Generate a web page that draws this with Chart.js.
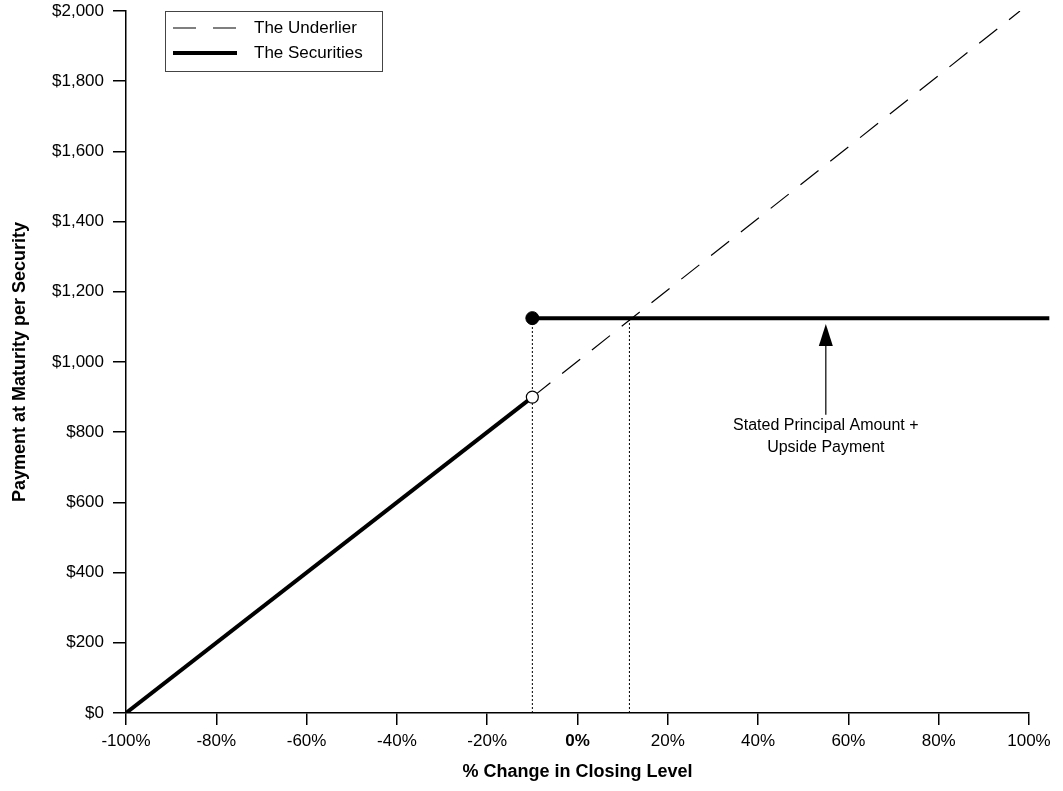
<!DOCTYPE html>
<html>
<head>
<meta charset="utf-8">
<script src="https://cdn.jsdelivr.net/npm/chart.js@4/dist/chart.umd.min.js"></script>
<style>
  html, body { margin: 0; padding: 0; background: #fff; }
</style>
</head>
<body>
<canvas id="payoffChart" width="1063" height="791"></canvas>
<script>
// x = % change in closing level, y = payment at maturity ($)
const xTicks = [-100, -80, -60, -40, -20, 0, 20, 40, 60, 80, 100];
const yTicks = [0, 200, 400, 600, 800, 1000, 1200, 1400, 1600, 1800, 2000];

const underlierX = [-10, 98];
const underlierY = [900, 2000];

const securitiesLowX = [-100, -10];
const securitiesLowY = [0, 900];
const securitiesHighX = [-10, 104.5];
const securitiesHighY = [1125, 1125];

const dropLine1X = [-10, -10];
const dropLine1Y = [0, 1125];
const dropLine2X = [11.5, 11.5];
const dropLine2Y = [0, 1125];

const openPointX = [-10];
const openPointY = [900];
const closedPointX = [-10];
const closedPointY = [1125];

const arrowX = 55;
const arrowFromY = 850;
const arrowToY = 1108;
const arrowLabel = ['Stated Principal Amount +', 'Upside Payment'];

const legendLabels = ['The Underlier', 'The Securities'];

const FONT = '"Liberation Sans", Arial, sans-serif';

function toPoints(xs, ys) {
    return xs.map((x, i) => ({ x: x, y: ys[i] }));
}

// Legend box drawn inside the plot area
const legendBox = {
    id: 'legendBox',
    afterDraw(chart) {
        const c = chart.ctx;
        const a = chart.chartArea;
        const x = a.left + 39, y = a.top, w = 217, h = 60;
        c.save();
        c.fillStyle = '#fff';
        c.fillRect(x, y, w, h);
        c.strokeStyle = '#444';
        c.lineWidth = 1;
        c.strokeRect(x + 0.5, y + 0.5, w, h);

        c.strokeStyle = '#000';
        c.lineWidth = 1.2;
        c.setLineDash([23, 17]);
        c.beginPath();
        c.moveTo(x + 8, y + 17);
        c.lineTo(x + 80, y + 17);
        c.stroke();

        c.setLineDash([]);
        c.lineWidth = 4;
        c.beginPath();
        c.moveTo(x + 8, y + 42);
        c.lineTo(x + 72, y + 42);
        c.stroke();

        c.fillStyle = '#000';
        c.font = '17px ' + FONT;
        c.textBaseline = 'middle';
        c.fillText(legendLabels[0], x + 89, y + 17);
        c.fillText(legendLabels[1], x + 89, y + 42);
        c.restore();
    }
};

// Arrow with annotation text
const arrowNote = {
    id: 'arrowNote',
    afterDatasetsDraw(chart) {
        const c = chart.ctx;
        const xs = chart.scales.x, ys = chart.scales.y;
        const px = xs.getPixelForValue(arrowX);
        const y0 = ys.getPixelForValue(arrowFromY);
        const y1 = ys.getPixelForValue(arrowToY);
        c.save();
        c.strokeStyle = '#000';
        c.fillStyle = '#000';
        c.lineWidth = 1.2;
        c.beginPath();
        c.moveTo(px, y0);
        c.lineTo(px, y1 + 18);
        c.stroke();
        c.beginPath();
        c.moveTo(px, y1);
        c.lineTo(px - 7, y1 + 22);
        c.lineTo(px + 7, y1 + 22);
        c.closePath();
        c.fill();

        c.font = '16px ' + FONT;
        c.textAlign = 'center';
        c.textBaseline = 'middle';
        c.fillText(arrowLabel[0], px, y0 + 11);
        c.fillText(arrowLabel[1], px, y0 + 33);
        c.restore();
    }
};

const ctx = document.getElementById('payoffChart').getContext('2d');

new Chart(ctx, {
    type: 'scatter',
    data: {
        datasets: [
            {
                label: 'drop1',
                data: toPoints(dropLine1X, dropLine1Y),
                showLine: true,
                borderColor: '#000',
                borderWidth: 1,
                borderDash: [2, 2],
                pointRadius: 0,
                order: 4
            },
            {
                label: 'drop2',
                data: toPoints(dropLine2X, dropLine2Y),
                showLine: true,
                borderColor: '#000',
                borderWidth: 1,
                borderDash: [2, 2],
                pointRadius: 0,
                order: 4
            },
            {
                label: legendLabels[0],
                data: toPoints(underlierX, underlierY),
                showLine: true,
                borderColor: '#000',
                borderWidth: 1.2,
                borderDash: [23, 15],
                pointRadius: 0,
                order: 3
            },
            {
                label: legendLabels[1],
                data: toPoints(securitiesLowX, securitiesLowY),
                showLine: true,
                borderColor: '#000',
                borderWidth: 4,
                pointRadius: 0,
                order: 2
            },
            {
                label: legendLabels[1] + ' (upside)',
                data: toPoints(securitiesHighX, securitiesHighY),
                showLine: true,
                borderColor: '#000',
                borderWidth: 4,
                pointRadius: 0,
                clip: false,
                order: 2
            },
            {
                label: 'open',
                data: toPoints(openPointX, openPointY),
                pointRadius: 6,
                pointBackgroundColor: '#fff',
                pointBorderColor: '#000',
                pointBorderWidth: 1.2,
                order: 0
            },
            {
                label: 'closed',
                data: toPoints(closedPointX, closedPointY),
                pointRadius: 6.5,
                pointBackgroundColor: '#000',
                pointBorderColor: '#000',
                pointBorderWidth: 1,
                order: 0
            }
        ]
    },
    options: {
        responsive: false,
        animation: false,
        layout: { padding: { left: 0, top: 11, right: 34, bottom: 0 } },
        plugins: {
            legend: { display: false },
            tooltip: { enabled: false }
        },
        scales: {
            x: {
                type: 'linear',
                min: -100,
                max: 100,
                afterBuildTicks: (scale) => { scale.ticks = xTicks.map(v => ({ value: v })); },
                afterFit: (scale) => {
                    scale.height = 78;
                    scale.paddingLeft = 0;
                    scale.paddingRight = 0;
                },
                grid: { drawOnChartArea: false, tickLength: 12, color: '#000', lineWidth: 1.5 },
                border: { color: '#000', width: 1.5 },
                ticks: {
                    color: '#000',
                    padding: 6,
                    maxRotation: 0,
                    font: (c) => ({ family: FONT, size: 17, weight: c.tick && c.tick.value === 0 ? 'bold' : 'normal' }),
                    callback: (v) => v + '%'
                },
                title: {
                    display: true,
                    text: '% Change in Closing Level',
                    color: '#000',
                    font: { family: FONT, size: 18, weight: 'bold' },
                    padding: { top: 0, bottom: 8 }
                }
            },
            y: {
                type: 'linear',
                min: 0,
                max: 2000,
                afterBuildTicks: (scale) => { scale.ticks = yTicks.map(v => ({ value: v })); },
                afterFit: (scale) => {
                    scale.width = 126;
                    scale.paddingTop = 0;
                    scale.paddingBottom = 0;
                },
                grid: { drawOnChartArea: false, tickLength: 13, color: '#000', lineWidth: 1.5 },
                border: { color: '#000', width: 1.5 },
                ticks: {
                    color: '#000',
                    padding: 9,
                    font: { family: FONT, size: 17 },
                    callback: (v) => '$' + v.toLocaleString('en-US')
                },
                title: {
                    display: true,
                    text: 'Payment at Maturity per Security',
                    color: '#000',
                    font: { family: FONT, size: 18, weight: 'bold' },
                    padding: { top: 9, bottom: 0 }
                }
            }
        }
    },
    plugins: [arrowNote, legendBox]
});
</script>
</body>
</html>
